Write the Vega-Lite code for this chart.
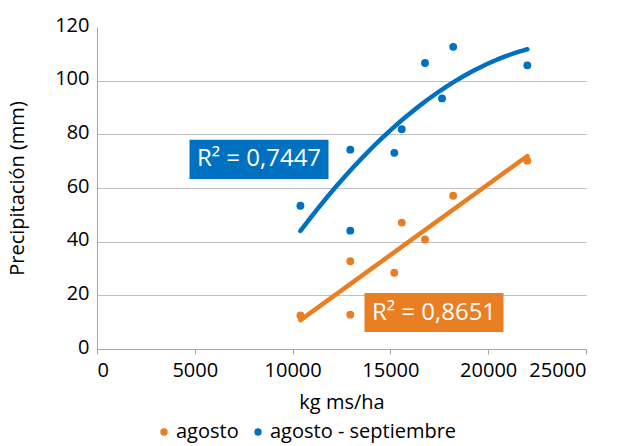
{
  "$schema": "https://vega.github.io/schema/vega-lite/v6.json",
  "width": 489,
  "height": 322,
  "autosize": {"type": "none"},
  "padding": {"left": 97, "top": 27, "right": 33, "bottom": 97},
  "background": "white",
  "config": {
    "font": "Open Sans",
    "view": {"stroke": null},
    "axis": {
      "labelFontSize": 20,
      "titleFontSize": 20,
      "titleFontWeight": "normal",
      "labelColor": "#000000",
      "titleColor": "#000000",
      "domainColor": "#A6A6A6",
      "tickColor": "#A6A6A6",
      "gridColor": "#C0C0C0"
    }
  },
  "datasets": {
    "pts": [
      {"kg": 10400, "mm": 12.5, "serie": "agosto"},
      {"kg": 12950, "mm": 32.7, "serie": "agosto"},
      {"kg": 12950, "mm": 12.8, "serie": "agosto"},
      {"kg": 15200, "mm": 28.4, "serie": "agosto"},
      {"kg": 15580, "mm": 47.1, "serie": "agosto"},
      {"kg": 16770, "mm": 40.8, "serie": "agosto"},
      {"kg": 18210, "mm": 57.1, "serie": "agosto"},
      {"kg": 22000, "mm": 70.2, "serie": "agosto"},
      {"kg": 10400, "mm": 53.4, "serie": "agosto - septiembre"},
      {"kg": 12950, "mm": 74.3, "serie": "agosto - septiembre"},
      {"kg": 12950, "mm": 44.1, "serie": "agosto - septiembre"},
      {"kg": 15200, "mm": 73.1, "serie": "agosto - septiembre"},
      {"kg": 15580, "mm": 81.9, "serie": "agosto - septiembre"},
      {"kg": 16770, "mm": 106.6, "serie": "agosto - septiembre"},
      {"kg": 17640, "mm": 93.4, "serie": "agosto - septiembre"},
      {"kg": 18210, "mm": 112.6, "serie": "agosto - septiembre"},
      {"kg": 22000, "mm": 105.7, "serie": "agosto - septiembre"}
    ],
    "boxes": [
      {"serie": "agosto - septiembre", "x": 4730, "x2": 11835, "y": 63.4, "y2": 78.0, "cx": 8282, "cy": 70.7, "label": "R² = 0,7447"},
      {"serie": "agosto", "x": 13676, "x2": 20782, "y": 6.3, "y2": 20.9, "cx": 17229, "cy": 13.6, "label": "R² = 0,8651"}
    ]
  },
  "layer": [
    {
      "data": {"name": "pts"},
      "mark": {"type": "point", "filled": true, "opacity": 1, "size": 62, "shape": "circle"},
      "encoding": {
        "x": {
          "field": "kg", "type": "quantitative",
          "scale": {"domain": [0, 25000], "nice": false, "zero": false},
          "axis": {
            "title": "kg ms/ha",
            "values": [0, 5000, 10000, 15000, 20000, 25000],
            "format": "d",
            "grid": false,
            "tickSize": 5,
            "labelPadding": 6,
            "titlePadding": 12,
            "labelOverlap": false
          }
        },
        "y": {
          "field": "mm", "type": "quantitative",
          "scale": {"domain": [0, 120], "nice": false},
          "axis": {
            "title": "Precipitación (mm)",
            "values": [0, 20, 40, 60, 80, 100, 120],
            "grid": true,
            "gridOpacity": {"condition": {"test": "datum.value === 120 || datum.value === 0", "value": 0}, "value": 1},
            "ticks": false,
            "labelPadding": 8,
            "labelOffset": -2,
            "titlePadding": 27
          }
        },
        "color": {
          "field": "serie", "type": "nominal",
          "scale": {"domain": ["agosto", "agosto - septiembre"], "range": ["#EA7E22", "#0070C0"]},
          "legend": {
            "title": null,
            "orient": "none",
            "direction": "horizontal",
            "legendX": 57,
            "legendY": 395,
            "symbolType": "circle",
            "symbolSize": 55,
            "symbolOpacity": 1,
            "labelFontSize": 20,
            "labelLimit": 0,
            "labelColor": "#000000",
            "labelOffset": 2,
            "columnPadding": 9
          }
        }
      }
    },
    {
      "data": {"name": "pts"},
      "transform": [
        {"filter": "datum.serie === 'agosto'"},
        {"regression": "mm", "on": "kg"}
      ],
      "mark": {"type": "line", "color": "#EA7E22", "strokeWidth": 4.5, "strokeCap": "round"},
      "encoding": {
        "x": {"field": "kg", "type": "quantitative"},
        "y": {"field": "mm", "type": "quantitative"}
      }
    },
    {
      "data": {"name": "pts"},
      "transform": [
        {"filter": "datum.serie === 'agosto - septiembre'"},
        {"regression": "mm", "on": "kg", "method": "poly", "order": 2}
      ],
      "mark": {"type": "line", "color": "#0070C0", "strokeWidth": 4.5, "strokeCap": "round"},
      "encoding": {
        "x": {"field": "kg", "type": "quantitative"},
        "y": {"field": "mm", "type": "quantitative"}
      }
    },
    {
      "data": {"name": "boxes"},
      "mark": {"type": "rect"},
      "encoding": {
        "x": {"field": "x", "type": "quantitative"},
        "x2": {"field": "x2"},
        "y": {"field": "y", "type": "quantitative"},
        "y2": {"field": "y2"},
        "color": {"condition": {"test": "datum.serie === 'agosto'", "value": "#EA7E22"}, "value": "#0070C0"}
      }
    },
    {
      "data": {"name": "boxes"},
      "mark": {"type": "text", "color": "white", "fontSize": 24, "align": "center", "baseline": "middle"},
      "encoding": {
        "x": {"field": "cx", "type": "quantitative"},
        "y": {"field": "cy", "type": "quantitative"},
        "text": {"field": "label"}
      }
    }
  ]
}
